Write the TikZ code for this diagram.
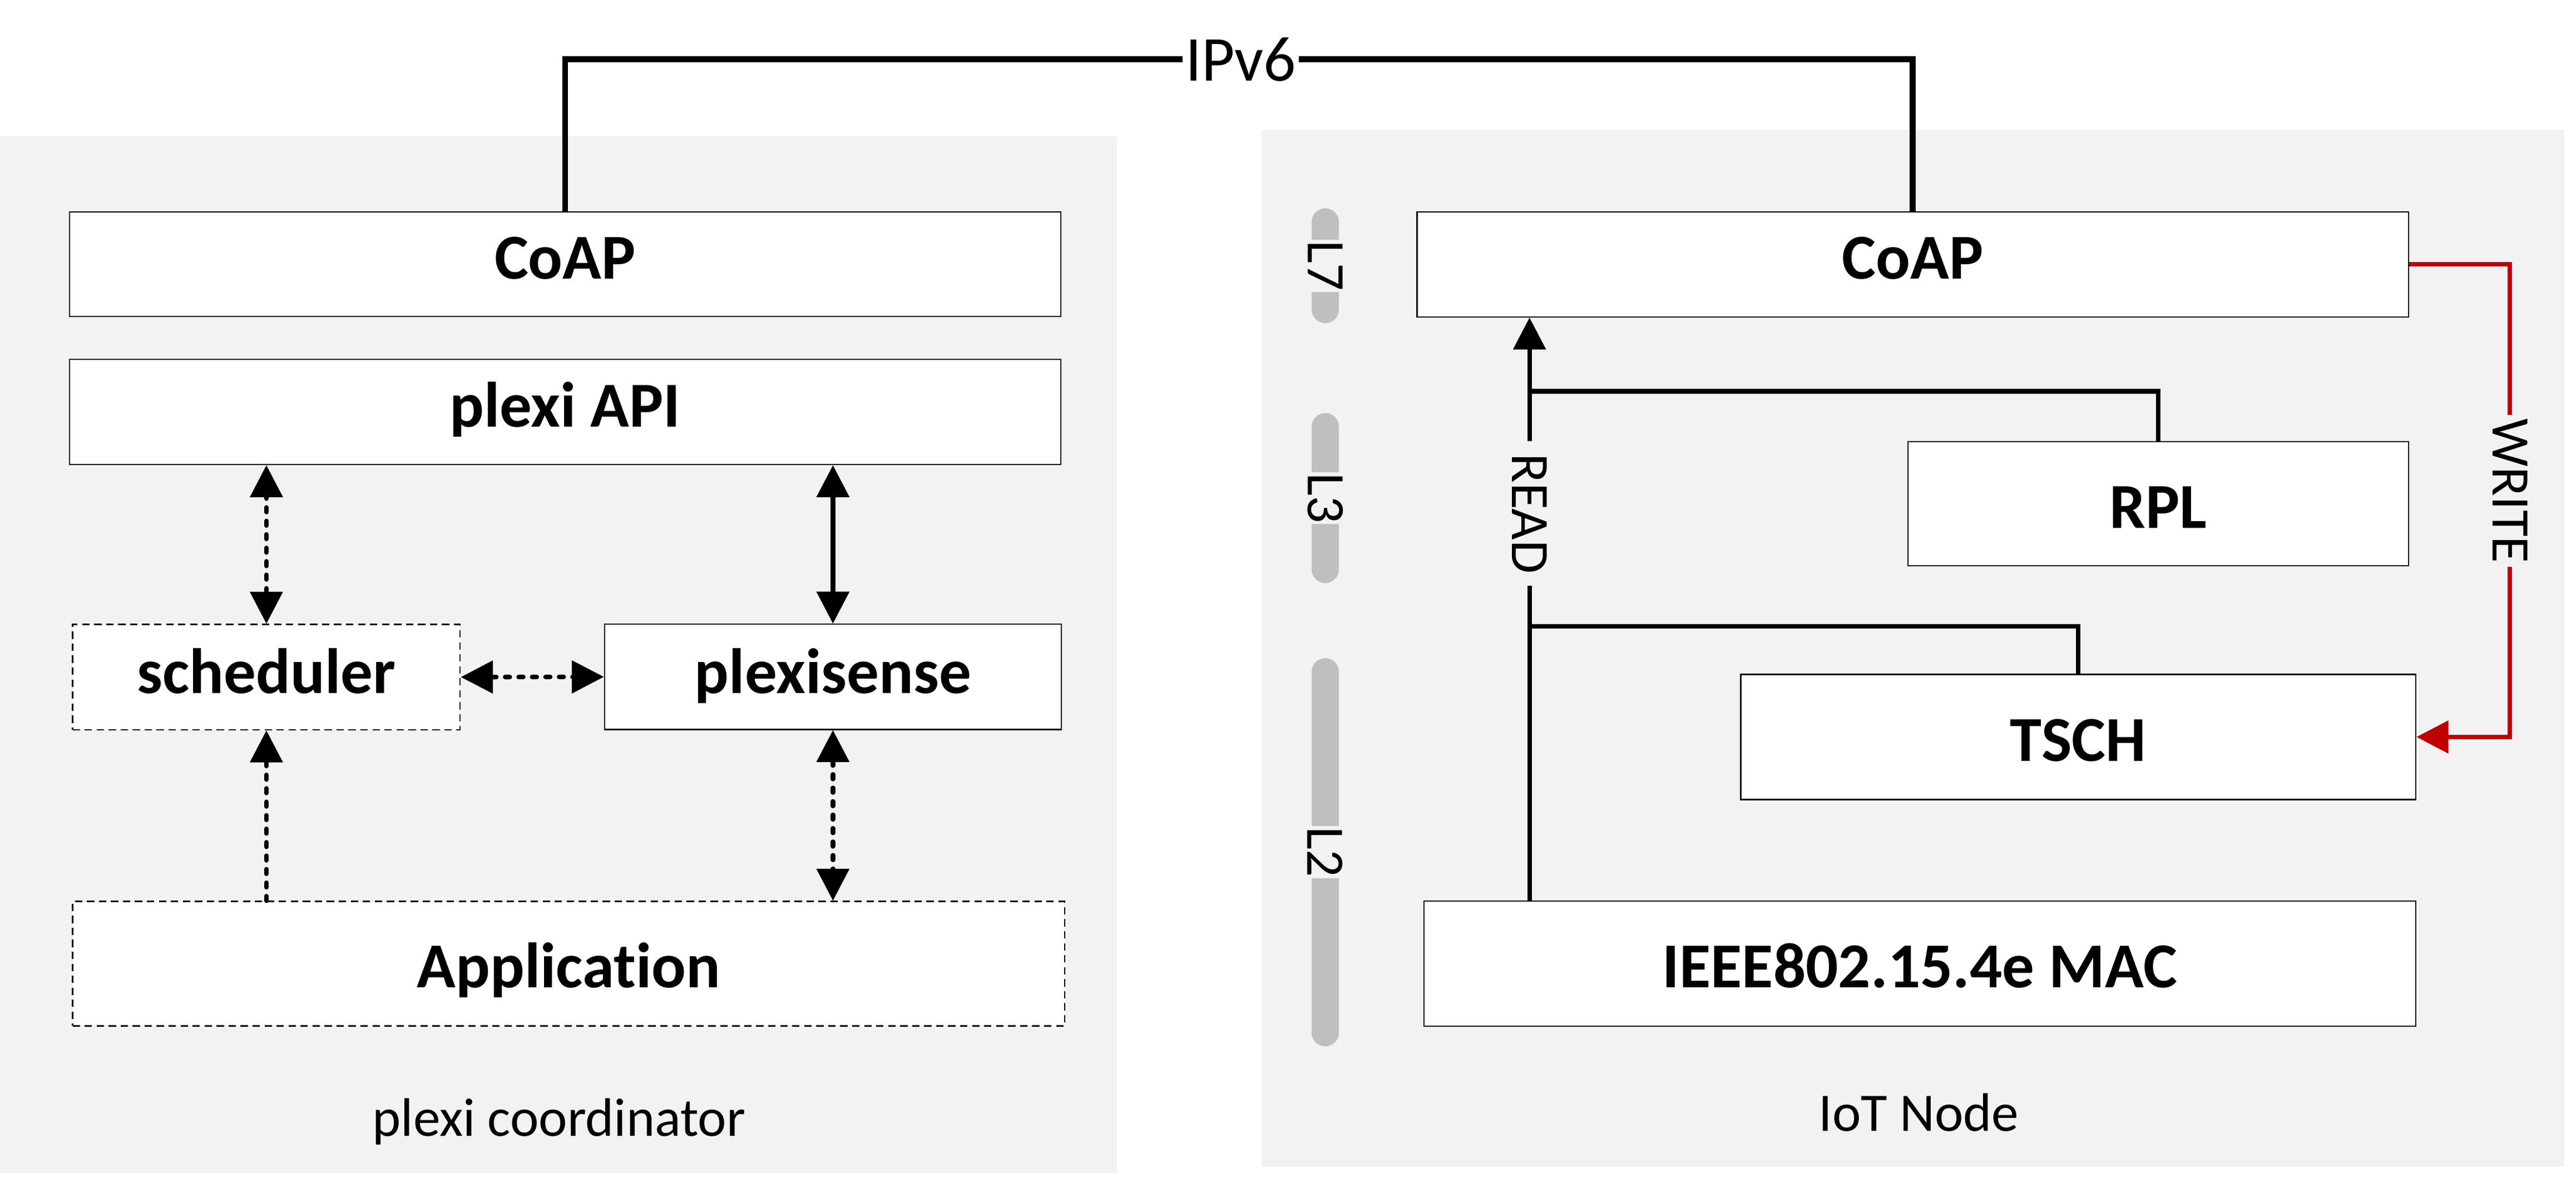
\documentclass[tikz,border=0pt]{standalone}
\usepackage{fontspec}
\setmainfont{Carlito}[Ligatures={NoCommon,NoRare,NoDiscretionary}]
\usetikzlibrary{arrows.meta,calc}
\definecolor{panel}{HTML}{F2F2F2}
\definecolor{pillgray}{HTML}{BFBFBF}
\definecolor{wred}{HTML}{C00000}
\begin{document}
\begin{tikzpicture}[x=1pt,y=-1pt,
  >={Triangle[length=19.5pt,width=19.5pt]},
  box/.style={draw=black,line width=0.8pt,fill=white,inner sep=0pt,
    font=\fontsize{39}{44}\selectfont\bfseries,text height=25pt,text depth=7pt},
  tallbox/.style={box,text height=29.6pt,text depth=0pt},
  dashbox/.style={dash pattern=on 4.5pt off 2.8pt},
  conn/.style={line width=2.8pt},
  dconn/.style={conn,dash pattern=on 2.8pt off 5.4pt,line cap=round},
  sidelbl/.style={font=\fontsize{33}{38}\selectfont,fill=panel,rotate=-90,inner ysep=1pt},
  pillbar/.style={pillgray,line width=16.5pt,line cap=round},
  paneltext/.style={font=\fontsize{33}{38}\selectfont,anchor=base,inner sep=0pt}
]
\useasboundingbox (0,0) rectangle (1568,719.5);
% panels
\fill[panel] (0,83) rectangle (680,714);
\fill[panel] (768,79) rectangle (1561,710.5);

% layer pills
\draw[pillbar] (806.7,135.05) -- (806.7,188.45);
\draw[pillbar] (806.7,259.65) -- (806.7,346.65);
\draw[pillbar] (806.7,408.85) -- (806.7,628.65);
\node[sidelbl,inner xsep=0.6pt] (l7) at (806.7,161.75) {L7};
\node[sidelbl,inner xsep=0.6pt] (l3) at (806.7,303.2) {L3};
\node[sidelbl,inner xsep=0.6pt] (l2) at (806.7,518.75) {L2};

% left boxes
\node[box,minimum width=603.5pt,minimum height=63.7pt] (coapL) at (344,160.9) {CoAP};
\node[box,minimum width=603.5pt,minimum height=64pt] (api) at (344,250.75) {plexi API};
\node[box,dashbox,minimum width=235.9pt,minimum height=64.1pt,text depth=5pt] (sched) at (162.15,412.15) {scheduler};
\node[box,minimum width=278pt,minimum height=64pt,text depth=5pt] (sense) at (507,412) {plexisense};
\node[tallbox,dashbox,minimum width=603.8pt,minimum height=75.8pt,text height=29pt] (app) at (346.1,586.6) {Application};

% right boxes
\node[box,minimum width=603.4pt,minimum height=64pt] (coapR) at (1164.3,160.9) {CoAP};
\node[tallbox,minimum width=304.6pt,minimum height=75.5pt] (rpl) at (1313.7,306.65) {RPL};
\node[tallbox,minimum width=410.9pt,minimum height=76.2pt] (tsch) at (1265,448.6) {TSCH};
\node[tallbox,minimum width=603.7pt,minimum height=76pt,text height=29pt] (mac) at (1168.55,586.6) {IEEE802.15.4e MAC};

% IPv6 link
\node[font=\fontsize{39}{44}\selectfont,inner xsep=1.5pt,inner ysep=0pt] (ipv6) at (755.3,36.1) {IPv6};
\draw[line width=3.6pt] (coapL.north) |- (ipv6.west);
\draw[line width=3.6pt] (ipv6.east) -| (coapR.north);

% left connectors
\draw[dconn,<->] (sched.north) -- (sched.north |- api.south);
\draw[conn,<->] (sense.north) -- (sense.north |- api.south);
\draw[dconn,<->] (sched.east) -- (sense.west);
\draw[dconn,->] (sched.south |- app.north) -- (sched.south);
\draw[dconn,<->] (sense.south) -- (sense.south |- app.north);

% READ path
\node[sidelbl,inner xsep=7.2pt] (read) at (931,312.6) {READ};
\coordinate (j1) at (931,238.2);
\coordinate (j2) at (931,381.3);
\draw[conn] (j2 |- mac.north) -- (read.east);
\draw[conn,->] (read.west) -- (j1 |- coapR.south);
\draw[conn] (rpl.north) |- (j1);
\draw[conn] (tsch.north) |- (j2);

% WRITE path
\node[sidelbl,inner xsep=2.1pt] (write) at (1527.8,298.8) {WRITE};
\draw[conn,wred] (coapR.east) -| (write.west);
\draw[conn,wred,->] (write.east) |- (tsch.east);

% panel titles
\node[paneltext] (lefttitle) at (340.3,691.4) {plexi coordinator};
\node[paneltext] (righttitle) at (1167.9,688.6) {IoT Node};
\end{tikzpicture}
\end{document}
